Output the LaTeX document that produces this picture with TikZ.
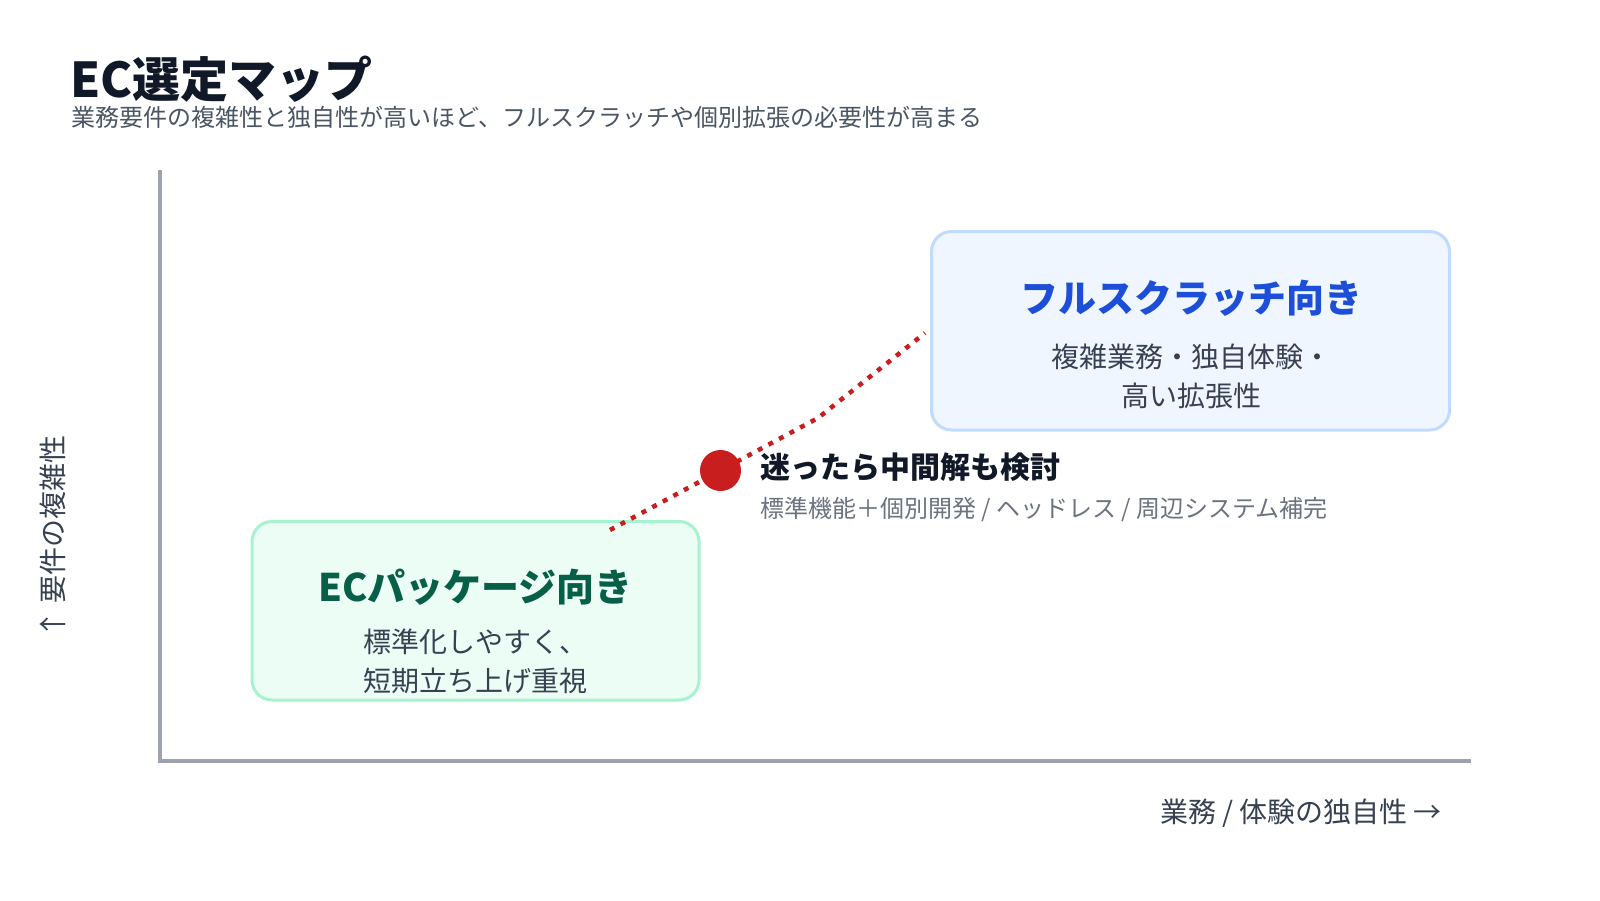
\documentclass[tikz,border=0pt]{standalone}
\usepackage{fontspec}
\setmainfont{Noto Sans CJK JP}
\definecolor{ink}{HTML}{111827}
\definecolor{subgray}{HTML}{4B5563}
\definecolor{axisgray}{HTML}{9CA3AF}
\definecolor{labelgray}{HTML}{374151}
\definecolor{midgray}{HTML}{6B7280}
\definecolor{bluetxt}{HTML}{1D4ED8}
\definecolor{bluefill}{HTML}{EFF6FF}
\definecolor{bluedraw}{HTML}{BFDBFE}
\definecolor{greentxt}{HTML}{065F46}
\definecolor{greenfill}{HTML}{ECFDF5}
\definecolor{greendraw}{HTML}{A7F3D0}
\definecolor{accent}{HTML}{C81E1E}
\tikzset{
  zonebox/.style={rounded corners=20pt, line width=3pt, inner sep=0pt},
  zonetitle/.style={font=\fontsize{38}{44}\selectfont\bfseries, inner sep=0pt},
  zonetext/.style={font=\fontsize{28}{39}\selectfont, text=labelgray, align=center, inner sep=0pt},
  axisline/.style={draw=axisgray, line width=3.5pt},
  axislabel/.style={font=\fontsize{28}{32}\selectfont, text=labelgray, inner sep=0pt},
  dotline/.style={draw=accent, line width=4.5pt, dash pattern=on 5pt off 7pt},
  reddot/.style={circle, fill=accent, minimum size=41pt, inner sep=0pt},
}
\begin{document}
\begin{tikzpicture}[x=1pt,y=-1pt]
\useasboundingbox[fill=white] (0,0) rectangle (1600,900);

% title
\node[anchor=west, inner sep=0pt, text=ink, font=\fontsize{48}{54}\selectfont\bfseries] (title) at (70,79) {EC選定マップ};
\node[anchor=west, inner sep=0pt, text=subgray, font=\fontsize{24}{28}\selectfont] (subtitle) at (71,117.5) {業務要件の複雑性と独自性が高いほど、フルスクラッチや個別拡張の必要性が高まる};

% axes
\coordinate (ytop) at (160,170);
\coordinate (origin) at (160,761);
\coordinate (xend) at (1471,761);
\draw[axisline] (ytop) -- (origin) -- (xend);
\node[axislabel, rotate=90] (ylabel) at (53,537) {↑ 要件の複雑性};
\node[axislabel, anchor=east] (xlabel) at (1442,813) {業務 / 体験の独自性 →};

% zones
\node[zonebox, fill=bluefill, draw=bluedraw, minimum width=518pt, minimum height=198.5pt] (blue) at (1190.5,330.75) {};
\node[zonetitle, text=bluetxt] (bluetitle) at (1191,298) {フルスクラッチ向き};
\node[zonetext] (bluetext) at (1191,376.5) {複雑業務・独自体験・\\高い拡張性};

\node[zonebox, fill=greenfill, draw=greendraw, minimum width=447pt, minimum height=178.5pt] (green) at (475.5,610.75) {};
\node[zonetitle, text=greentxt] (greentitle) at (475.5,587) {ECパッケージ向き};
\node[zonetext] (greentext) at (475.5,661.5) {標準化しやすく、\\短期立ち上げ重視};

% middle path
\coordinate (lstart) at (610,530);
\coordinate (mid) at (720.5,470.5);
\coordinate (bend) at (818,418);
\coordinate (lend) at (925,333);
\draw[dotline] (lstart) -- (mid) -- (bend) -- (lend);
\node[reddot] (dot) at (mid) {};

\node[anchor=west, inner sep=0pt, text=ink, font=\fontsize{30}{36}\selectfont\bfseries] (midlabel) at (760,467.5) {迷ったら中間解も検討};
\node[anchor=west, inner sep=0pt, text=midgray, font=\fontsize{24}{28}\selectfont] (midtext) at (760,509) {標準機能＋個別開発 / ヘッドレス / 周辺システム補完};
\end{tikzpicture}
\end{document}
